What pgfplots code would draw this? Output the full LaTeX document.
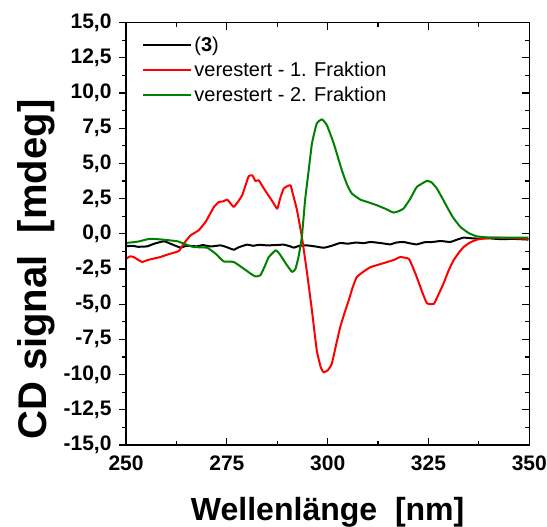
\documentclass[border=0pt]{standalone}
\usepackage{fontspec}
\setmainfont{Liberation Sans}
\usepackage{pgfplots}
\pgfplotsset{compat=1.18}
\definecolor{cdred}{RGB}{255,0,0}
\definecolor{cdgreen}{RGB}{0,128,0}
\begin{document}
\begin{tikzpicture}
\begin{axis}[
  scale only axis, width=403pt, height=422pt,
  xmin=250, xmax=350, ymin=-15, ymax=15,
  xtick={250,275,...,350}, minor x tick num=1,
  ytick={-15,-12.5,...,15}, minor y tick num=1,
  xtick pos=bottom, ytick pos=left,
  xtick align=inside, ytick align=outside,
  major tick length=7pt, minor tick length=4pt,
  every tick/.style={black, line width=1.2pt},
  axis line style={line width=1.5pt},
  /pgf/number format/assume math mode=true,
  tick label style={font=\bfseries\fontsize{21}{21}\selectfont},
  yticklabel style={xshift=-4pt, /pgf/number format/.cd, use comma, fixed, fixed zerofill, precision=1},
  xticklabel style={yshift=-7pt, /pgf/number format/.cd, fixed, precision=0},
  xlabel={\bfseries\fontsize{32}{32}\selectfont Wellenlänge\ \ [nm]},
  ylabel={\bfseries\fontsize{40}{40}\selectfont CD signal\ \ [mdeg]},
  xlabel style={yshift=-20pt},
  ylabel style={at={(ticklabel cs:0.415)}, yshift=2pt},
  legend style={draw=none, fill=none, at={(0.04,0.972)}, anchor=north west,
    font=\fontsize{20}{20}\selectfont, row sep=5pt, inner sep=0pt},
  legend cell align=left,
  legend image code/.code={\draw[#1, line width=2pt] (0pt,0pt) -- (48pt,0pt);},
  every axis plot/.append style={line width=2pt, line join=round, smooth, tension=0.25},
]
\addplot[black] coordinates {
(250,-0.89)(251.5,-0.85)(253,-0.92)(255.2,-0.89)(257,-0.7)(259.4,-0.53)(261,-0.7)(263.5,-0.98)(265,-0.85)(267.6,-0.89)(269,-0.8)(271,-0.9)(273.4,-0.82)(275,-0.95)(276.7,-1.13)(278,-0.95)(280,-0.77)(281.5,-0.85)(283,-0.78)(285,-0.82)(287,-0.8)(289.1,-0.77)(290.7,-0.89)(291.6,-0.98)(293,-0.85)(294.8,-0.82)(297,-0.9)(299,-0.99)(301,-0.85)(303.1,-0.65)(305,-0.7)(307,-0.62)(309,-0.66)(310.6,-0.58)(313,-0.65)(315.5,-0.75)(317,-0.62)(318.8,-0.58)(320.5,-0.68)(322.1,-0.75)(324,-0.6)(326,-0.58)(328,-0.51)(330.4,-0.58)(332,-0.42)(333.7,-0.27)(335,-0.3)(337,-0.34)(340,-0.32)(343,-0.38)(346,-0.36)(349.8,-0.41)
};
\addlegendentry{(\textbf{3})}
\addplot[cdred] coordinates {
(250,-1.77)(251,-1.6)(251.9,-1.65)(253,-1.85)(254,-2.0)(255.5,-1.85)(257,-1.75)(258.5,-1.65)(260,-1.5)(261,-1.41)(263.1,-1.22)(264.3,-0.70)(266,-0.11)(268,0.25)(269.7,0.84)(270.8,1.4)(271.8,1.91)(273,2.26)(274,2.3)(275.1,2.43)(275.8,2.2)(276.7,1.91)(277.8,2.3)(278.8,2.74)(279.7,3.5)(280.4,4.09)(281.3,4.16)(282.1,3.75)(282.9,3.81)(284,3.3)(285,2.86)(286.3,2.3)(287.5,1.79)(288.3,2.6)(289.1,3.22)(290.1,3.4)(290.8,3.45)(291.4,2.8)(292.4,1.67)(293.6,-0.22)(294.8,-2.6)(296.1,-5.45)(297.3,-8.3)(298.3,-9.5)(299,-9.84)(300,-9.7)(301,-9.25)(302,-8.0)(303.1,-6.64)(304.2,-5.6)(305.2,-4.74)(306.2,-3.8)(307.2,-3.08)(308.8,-2.7)(310.6,-2.37)(312.5,-2.2)(314.7,-2.01)(316.5,-1.85)(318,-1.65)(320.1,-1.77)(321,-2.3)(322.1,-3.08)(323.4,-4.1)(324.6,-4.93)(326.3,-4.98)(327.5,-4.3)(328.7,-3.55)(330,-2.6)(331.2,-1.89)(332.5,-1.35)(333.7,-0.94)(335.3,-0.62)(337,-0.42)(340.3,-0.27)(345,-0.3)(349.8,-0.36)
};
\addlegendentry{verestert - 1. Fraktion}
\addplot[cdgreen] coordinates {
(250,-0.65)(253,-0.55)(256,-0.35)(259.4,-0.42)(262.7,-0.53)(264.8,-0.75)(266.8,-0.94)(270.1,-0.99)(272.2,-1.41)(274.2,-1.96)(276.7,-2.0)(279.2,-2.48)(281,-2.85)(282.1,-3.03)(283.3,-2.95)(284.4,-2.3)(285.4,-1.65)(287.1,-1.17)(288,-1.4)(289.1,-1.88)(290.2,-2.35)(291.2,-2.71)(292,-2.5)(292.8,-1.6)(293.6,-0.2)(294.4,2.4)(295.2,4.3)(296.1,6.42)(297.3,7.84)(298.6,8.13)(299.8,7.72)(301.5,6.42)(303.5,4.53)(304.8,3.5)(306,2.86)(308.1,2.43)(310,2.25)(312.2,2.03)(314.3,1.78)(316.3,1.51)(317.5,1.6)(318.8,1.79)(320.5,2.5)(322.1,3.33)(324.6,3.76)(325.8,3.65)(327.1,3.21)(328.3,2.6)(329.6,1.91)(331,1.2)(332.9,0.49)(335,0.05)(337,-0.18)(340.3,-0.27)(345,-0.27)(349.8,-0.27)
};
\addlegendentry{verestert - 2. Fraktion}
\end{axis}
\begin{axis}[
  scale only axis, width=403pt, height=422pt,
  xmin=250, xmax=350, ymin=-15, ymax=15,
  xtick={250,275,...,350}, minor x tick num=1,
  ytick={-15,-12.5,...,15}, minor y tick num=1,
  xtick pos=right, ytick pos=right, tick align=inside,
  major tick length=7pt, minor tick length=4pt,
  every tick/.style={black, line width=1.2pt},
  axis line style={line width=1.5pt},
  xticklabels={}, yticklabels={},
]
\end{axis}
\pgfresetboundingbox
\path[use as bounding box] ([xshift=-126pt,yshift=-81.7pt]current axis.south west) rectangle ([xshift=17.7pt,yshift=22.7pt]current axis.north east);
\end{tikzpicture}
\end{document}
